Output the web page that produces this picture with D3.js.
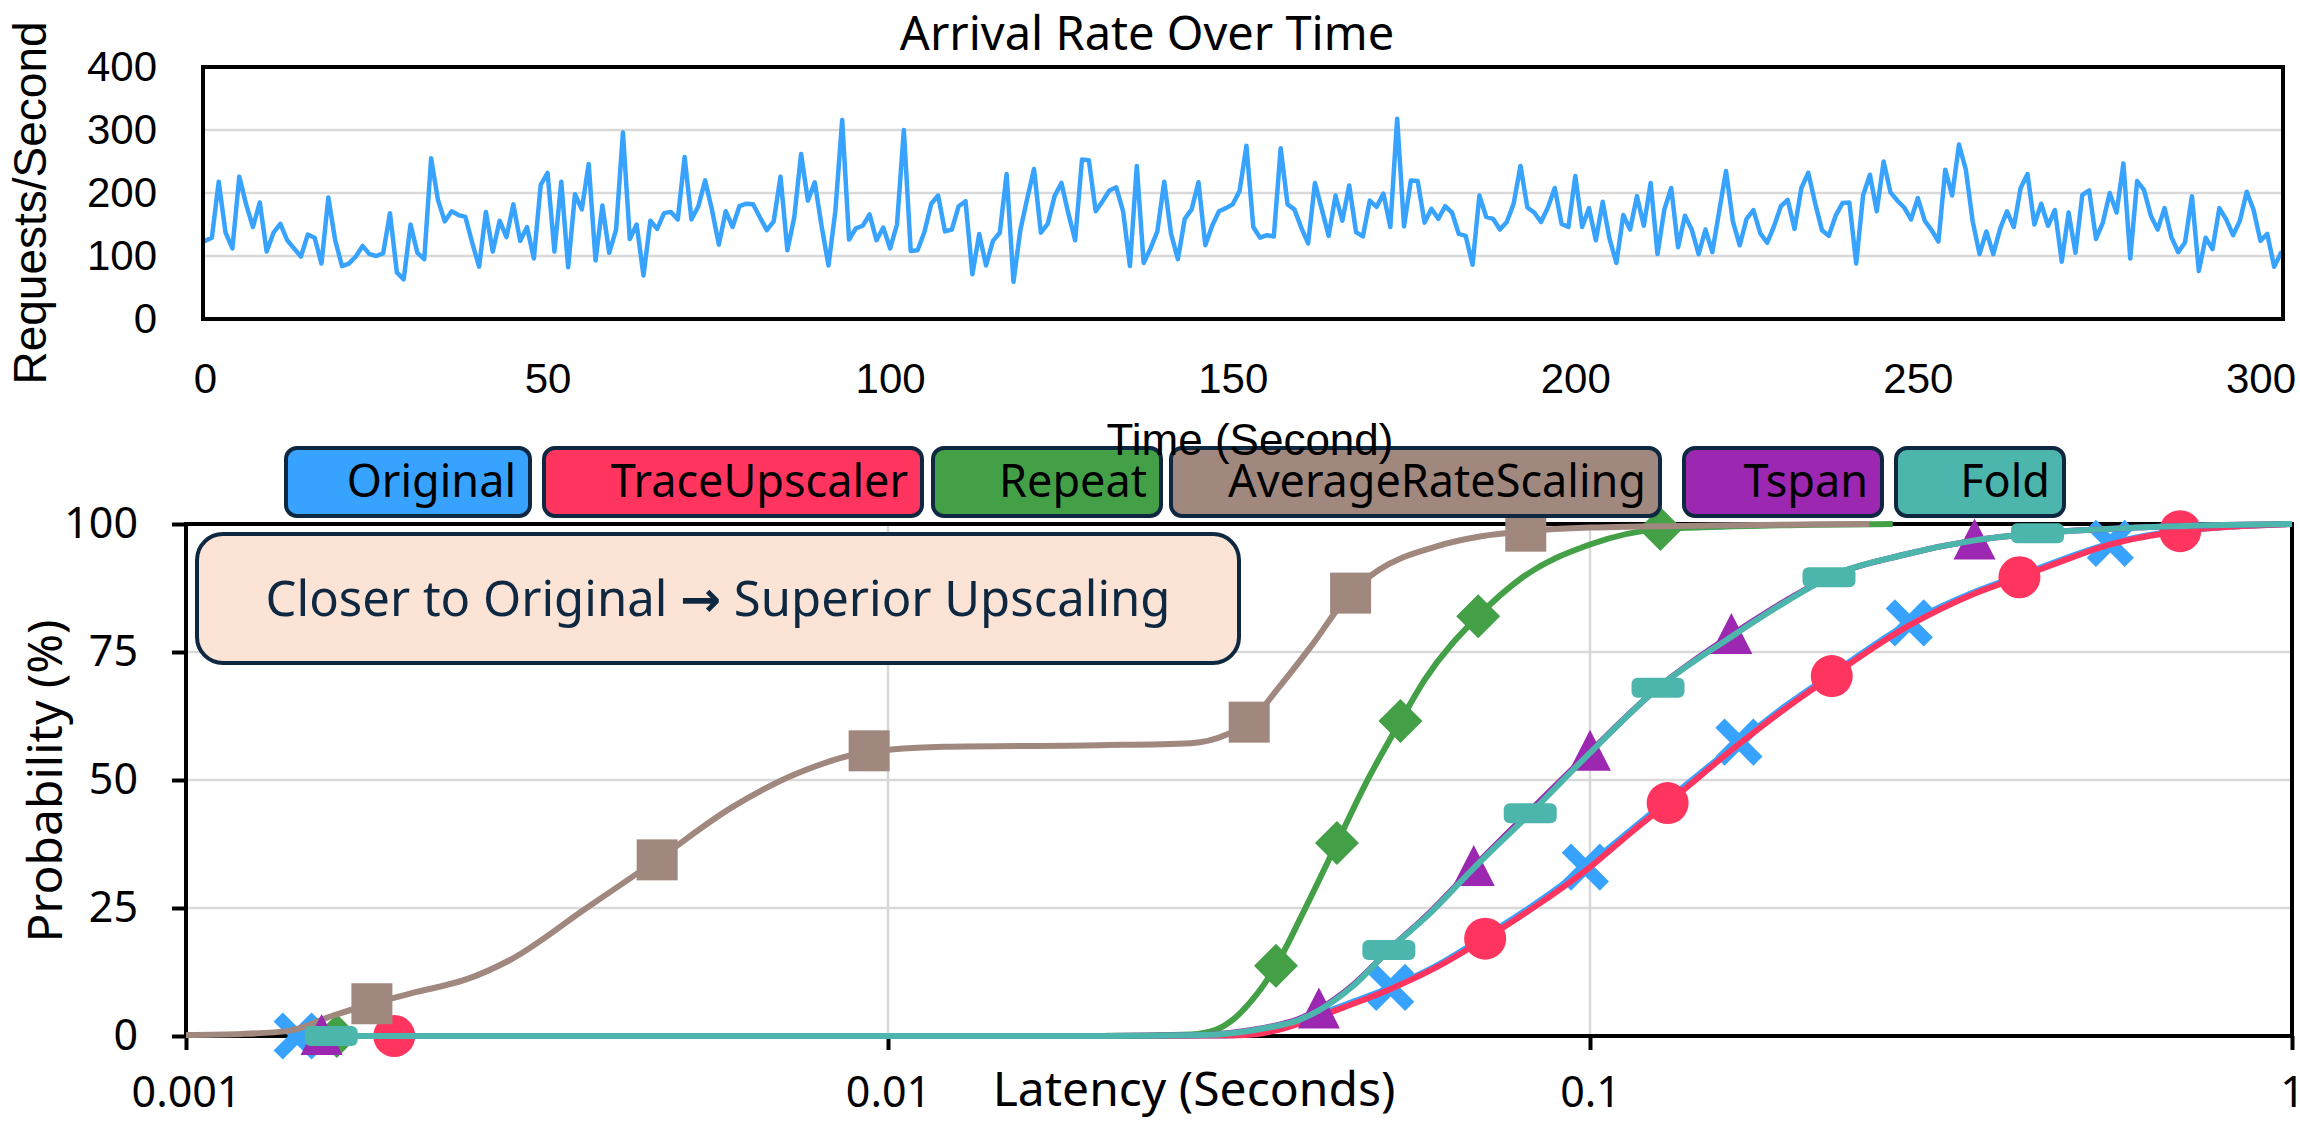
<!DOCTYPE html>
<html><head><meta charset="utf-8">
<script src="https://cdn.jsdelivr.net/npm/d3@7"></script>
<style>html,body{margin:0;padding:0;background:#fff;} svg{display:block}</style>
</head><body>
<svg id="chart" width="2300" height="1124"></svg>
<script>
// ---------------- DATA ----------------
const arrivalRate = [
124,129,218,137,112,226,182,146,185,107,137,151,125,112,99,134,129,88,193,125,
84,88,99,116,103,100,104,168,74,63,150,105,95,255,189,155,171,165,162,121,
83,170,107,156,130,182,124,146,96,213,232,107,218,82,198,174,246,93,180,105,
142,296,127,150,69,156,143,168,170,158,257,158,179,220,173,118,171,146,179,183,
182,161,141,155,226,109,161,262,188,217,147,85,171,316,126,144,148,166,125,145,
112,150,300,108,109,138,183,196,139,142,179,187,71,135,85,124,137,230,59,141,
191,238,137,151,195,216,168,125,253,252,171,187,204,209,171,84,243,89,112,139,
218,135,95,159,174,217,117,148,171,176,182,203,275,146,129,133,131,271,182,174,
145,120,216,174,132,196,156,212,138,131,188,178,199,146,318,147,220,219,153,175,
159,179,169,135,132,86,196,162,159,142,154,183,243,177,169,154,177,208,151,146,
227,146,176,125,186,127,89,165,142,195,148,216,103,174,208,114,164,142,103,142,
106,171,235,155,117,159,173,136,121,147,179,189,143,208,232,184,141,132,164,184,
185,88,196,229,171,250,201,188,177,158,192,156,141,123,237,196,277,237,155,103,
139,103,143,171,146,208,230,150,183,148,173,91,169,105,197,204,127,153,200,169,
247,96,219,205,164,142,176,130,106,122,195,76,129,111,176,158,133,156,202,173,
124,135,83,105
];
const timeTicks = [0, 50, 100, 150, 200, 250, 300];
const rateTicks = [0, 100, 200, 300, 400];

const seriesNames  = ["Original", "TraceUpscaler", "Repeat", "AverageRateScaling", "Tspan", "Fold"];
const seriesColors = ["#38A3FF", "#FF3560", "#43A047", "#A1887F", "#9C27B0", "#4DB6AC"];

const latencyTicks = [0.001, 0.01, 0.1, 1];
const probTicks = [0, 25, 50, 75, 100];

// CDF curves (latency in seconds, probability in %)
const originalLat  = [0.00144,0.02,0.03,0.033,0.036,0.04,0.045,0.052,0.06,0.07,0.085,0.0985,0.115,0.13,0.163,0.19,0.22,0.285,0.35,0.41,0.48,0.551,0.65,0.8,1.0];
const originalProb = [0,0,0.1,0.4,1.5,3.6,6.2,9.5,13.5,19,26.5,33,40.5,46.5,57.4,64.5,70.5,80.7,86.5,90,93.5,96.2,98.2,99.4,100];
const traceLat  = [0.00198,0.02,0.03,0.033,0.036,0.04,0.045,0.052,0.06,0.0709,0.085,0.1,0.115,0.129,0.163,0.19,0.221,0.285,0.35,0.409,0.48,0.551,0.693,0.85,1.0];
const traceProb = [0,0,0.1,0.3,1.2,3.2,5.8,9.2,13.2,19,26,33,40,45.5,57,64,70.3,80.2,86.2,89.6,93.2,96,98.6,99.6,100];
const repeatLat  = [0.00164,0.02,0.027,0.0293,0.031,0.033,0.0357,0.039,0.0436,0.048,0.0537,0.0581,0.0693,0.08,0.1,0.126,0.18,0.27];
const repeatProb = [0,0,0.3,1.2,3.2,7,13.7,24,37.7,49.5,61.5,69.5,82,89.5,96,99,99.7,100];
const arsLat  = [0.001,0.0012,0.0014,0.00162,0.00184,0.00213,0.0025,0.00289,0.00372,0.00469,0.006,0.00746,0.0094,0.012,0.02,0.027,0.0305,0.0327,0.036,0.04,0.0456,0.05,0.06,0.07,0.081,0.1,0.15,0.25];
const arsProb = [0.2,0.4,1,4,6.3,8.6,11,14.8,25,34.4,44.7,51.4,55.5,56.5,56.8,57.2,59,61.3,68,76,86.5,91,95.5,97.6,98.6,99.3,99.7,100];
const tspanLat  = [0.00156,0.02,0.028,0.0319,0.035,0.0383,0.0411,0.046,0.0517,0.0592,0.0683,0.0822,0.1,0.125,0.159,0.19,0.219,0.28,0.353,0.434,0.6,0.8,1.0];
const tspanProb = [0,0,0.2,0.9,1.8,3.2,5.2,10,16.8,24.2,33,44,55.5,68,78.3,85,89.6,94,96.8,98.2,99.3,99.8,100];
const foldLat  = [0.00161,0.02,0.028,0.0319,0.035,0.0383,0.0411,0.046,0.0517,0.0592,0.0683,0.0822,0.1,0.125,0.159,0.19,0.219,0.28,0.353,0.434,0.6,0.8,1.0];
const foldProb = [0,0,0.2,0.8,1.7,3,5,9.8,16.8,24,32.8,43.5,55.3,68,78,84.8,89.6,94,96.8,98.2,99.3,99.8,100];

// marker points
const originalMkLat  = [0.00144,0.052,0.0985,0.163,0.285,0.551];
const originalMkProb = [0,9.5,33,57.4,80.7,96.2];
const traceMkLat  = [0.00198,0.0709,0.129,0.221,0.409,0.693];
const traceMkProb = [0,19,45.5,70.3,89.6,98.6];
const repeatMkLat  = [0.00164,0.0357,0.0436,0.0537,0.0693,0.126];
const repeatMkProb = [0,13.7,37.7,61.5,82,99];
const arsMkLat  = [0.00184,0.00469,0.0094,0.0327,0.0456,0.081];
const arsMkProb = [6.3,34.4,55.7,61.3,86.5,98.6];
const tspanMkLat  = [0.00156,0.0411,0.0683,0.1,0.159,0.353];
const tspanMkProb = [0,5.2,33,55.5,78.3,96.8];
const foldMkLat  = [0.00161,0.0517,0.0822,0.125,0.219,0.434];
const foldMkProb = [0,16.8,43.5,68,89.6,98.2];

const annotationBefore = "Closer to Original ";
const annotationArrow = "\u2192";
const annotationAfter = " Superior Upscaling";

// ---------------- DRAW ----------------
const svg = d3.select("#chart");
const NAVY = "#0E2841";
const GRID = "#d9d9d9";
const topFont = "'Liberation Sans', Arial, sans-serif";
const botFont = "'Noto Sans', 'Open Sans', sans-serif";

// ===== Top chart =====
const T = {left: 203, right: 2283, top: 67, bottom: 319};
const xT = d3.scaleLinear().domain([0, arrivalRate.length - 1]).range([205, 2281]);
const yT = d3.scaleLinear().domain([0, 400]).range([T.bottom, T.top]);

const gTop = svg.append("g");
gTop.selectAll("line.grid").data(rateTicks.filter(d => d > 0 && d < 400)).enter()
  .append("line").attr("x1", T.left).attr("x2", T.right)
  .attr("y1", d => yT(d)).attr("y2", d => yT(d))
  .attr("stroke", GRID).attr("stroke-width", 2.5);

gTop.append("path").datum(arrivalRate)
  .attr("d", d3.line().x((d, i) => xT(i)).y(d => yT(d)))
  .attr("fill", "none").attr("stroke", "#38A3FF").attr("stroke-width", 4.5)
  .attr("stroke-linejoin", "round").attr("stroke-linecap", "round");

gTop.append("rect").attr("x", T.left).attr("y", T.top)
  .attr("width", T.right - T.left).attr("height", T.bottom - T.top)
  .attr("fill", "none").attr("stroke", "#000").attr("stroke-width", 4);

const yAxisT = d3.axisLeft(yT).tickValues(rateTicks).tickSize(0).tickPadding(46);
gTop.append("g").attr("transform", `translate(${T.left},0)`).call(yAxisT)
  .call(g => g.select(".domain").remove())
  .selectAll("text").attr("font-family", topFont).attr("font-size", 42).attr("fill", "#000");

const xAxisT = d3.axisBottom(xT).tickValues(timeTicks).tickSize(0).tickPadding(44).tickFormat(d3.format("d"));
gTop.append("g").attr("transform", `translate(0,${T.bottom})`).call(xAxisT)
  .call(g => g.select(".domain").remove())
  .selectAll("text").attr("font-family", topFont).attr("font-size", 42).attr("fill", "#000");

svg.append("text").attr("x", 1147).attr("y", 50).attr("text-anchor", "middle")
  .attr("font-family", botFont).attr("font-size", 47).attr("fill", "#000")
  .text("Arrival Rate Over Time");

svg.append("text").attr("transform", "translate(46,203) rotate(-90)").attr("text-anchor", "middle")
  .attr("font-family", topFont).attr("font-size", 46).attr("fill", "#000")
  .text("Requests/Second");

// ===== Bottom chart =====
const B = {left: 186, right: 2292, top: 524, bottom: 1036};
const xB = d3.scaleLog().domain([0.001, 1]).range([B.left, B.right]);
const yB = d3.scaleLinear().domain([0, 100]).range([B.bottom, B.top]);

const gBot = svg.append("g");
gBot.selectAll("line.hg").data(probTicks.filter(d => d > 0 && d < 100)).enter()
  .append("line").attr("x1", B.left).attr("x2", B.right)
  .attr("y1", d => yB(d)).attr("y2", d => yB(d))
  .attr("stroke", GRID).attr("stroke-width", 2.5);
gBot.selectAll("line.vg").data(latencyTicks.filter(d => d > 0.001 && d < 1)).enter()
  .append("line").attr("y1", B.top).attr("y2", B.bottom)
  .attr("x1", d => xB(d)).attr("x2", d => xB(d))
  .attr("stroke", GRID).attr("stroke-width", 2.5);

gBot.append("rect").attr("x", B.left).attr("y", B.top)
  .attr("width", B.right - B.left).attr("height", B.bottom - B.top)
  .attr("fill", "none").attr("stroke", "#000").attr("stroke-width", 4);

const yAxisB = d3.axisLeft(yB).tickValues(probTicks).tickSize(14).tickPadding(34);
gBot.append("g").attr("transform", `translate(${B.left},0)`).call(yAxisB)
  .call(g => g.select(".domain").remove())
  .call(g => g.selectAll(".tick line").attr("stroke", "#000").attr("stroke-width", 4))
  .selectAll("text").attr("font-family", botFont).attr("font-size", 43).attr("fill", "#000");

const xAxisB = d3.axisBottom(xB).tickValues(latencyTicks).tickSize(14).tickPadding(26)
  .tickFormat(d => String(d));
gBot.append("g").attr("transform", `translate(0,${B.bottom})`).call(xAxisB)
  .call(g => g.select(".domain").remove())
  .call(g => g.selectAll(".tick line").attr("stroke", "#000").attr("stroke-width", 4))
  .selectAll("text").attr("font-family", botFont).attr("font-size", 43).attr("fill", "#000");

svg.append("text").attr("x", 1194).attr("y", 1106).attr("text-anchor", "middle")
  .attr("font-family", botFont).attr("font-size", 48).attr("fill", "#000")
  .text("Latency (Seconds)");
svg.append("text").attr("transform", "translate(62,781) rotate(-90)").attr("text-anchor", "middle")
  .attr("font-family", botFont).attr("font-size", 48).attr("fill", "#000")
  .text("Probability (%)");

// Annotation box
svg.append("rect").attr("x", 197).attr("y", 534).attr("width", 1042).attr("height", 129)
  .attr("rx", 26).attr("fill", "#FBE3D6").attr("stroke", NAVY).attr("stroke-width", 4);
const ann = svg.append("text").attr("x", 718).attr("y", 616).attr("text-anchor", "middle")
  .attr("font-family", botFont).attr("font-size", 49).attr("fill", NAVY);
ann.append("tspan").text(annotationBefore);
ann.append("tspan").attr("font-family", "'DejaVu Sans', sans-serif").attr("font-weight", "bold").text(annotationArrow);
ann.append("tspan").text(annotationAfter);

// series
const series = [
  {lat: originalLat, prob: originalProb, mLat: originalMkLat, mProb: originalMkProb, shape: "x"},
  {lat: traceLat, prob: traceProb, mLat: traceMkLat, mProb: traceMkProb, shape: "circle"},
  {lat: repeatLat, prob: repeatProb, mLat: repeatMkLat, mProb: repeatMkProb, shape: "diamond"},
  {lat: arsLat, prob: arsProb, mLat: arsMkLat, mProb: arsMkProb, shape: "square"},
  {lat: tspanLat, prob: tspanProb, mLat: tspanMkLat, mProb: tspanMkProb, shape: "triangle"},
  {lat: foldLat, prob: foldProb, mLat: foldMkLat, mProb: foldMkProb, shape: "dash"}
];
const lineGen = d3.line().x(d => xB(d[0])).y(d => yB(d[1])).curve(d3.curveMonotoneX);

series.forEach((s, k) => {
  const col = seriesColors[k];
  const pts = s.lat.map((v, i) => [v, s.prob[i]]);
  const g = gBot.append("g");
  g.append("path").datum(pts).attr("d", lineGen)
    .attr("fill", "none").attr("stroke", col).attr("stroke-width", 6)
    .attr("stroke-linejoin", "round");
  s.mLat.forEach((v, i) => {
    const cx = xB(v), cy = yB(s.mProb[i]);
    const m = g.append("g").attr("transform", `translate(${cx},${cy})`);
    if (s.shape === "x") {
      m.append("path").attr("d", "M-19,-19L19,19M-19,19L19,-19")
        .attr("stroke", col).attr("stroke-width", 13).attr("fill", "none");
    } else if (s.shape === "circle") {
      m.append("circle").attr("r", 21).attr("fill", col);
    } else if (s.shape === "diamond") {
      m.append("path").attr("d", "M0,-22L22,0L0,22L-22,0Z").attr("fill", col);
    } else if (s.shape === "square") {
      m.append("rect").attr("x", -20.5).attr("y", -20.5).attr("width", 41).attr("height", 41).attr("fill", col);
    } else if (s.shape === "triangle") {
      m.append("path").attr("d", "M0,-22L21,19L-21,19Z").attr("fill", col);
    } else {
      m.append("rect").attr("x", -26.5).attr("y", -10).attr("width", 53).attr("height", 20)
        .attr("rx", 6).attr("fill", col);
    }
  });
});

// Legend boxes
const legendX = [[286, 530], [544, 922], [933, 1161], [1171, 1660], [1684, 1882], [1896, 2064]];
const lg = svg.append("g");
seriesNames.forEach((name, k) => {
  const [x0, x1] = legendX[k];
  lg.append("rect").attr("x", x0).attr("y", 448).attr("width", x1 - x0).attr("height", 68)
    .attr("rx", 11).attr("fill", seriesColors[k]).attr("stroke", NAVY).attr("stroke-width", 4);
  lg.append("text").attr("x", x1 - 14).attr("y", 497).attr("text-anchor", "end")
    .attr("font-family", botFont).attr("font-size", 45).attr("fill", "#000").text(name);
});

svg.append("text").attr("x", 1250).attr("y", 455).attr("text-anchor", "middle")
  .attr("font-family", topFont).attr("font-size", 44).attr("fill", "#000")
  .text("Time (Second)");
</script>
</body></html>
